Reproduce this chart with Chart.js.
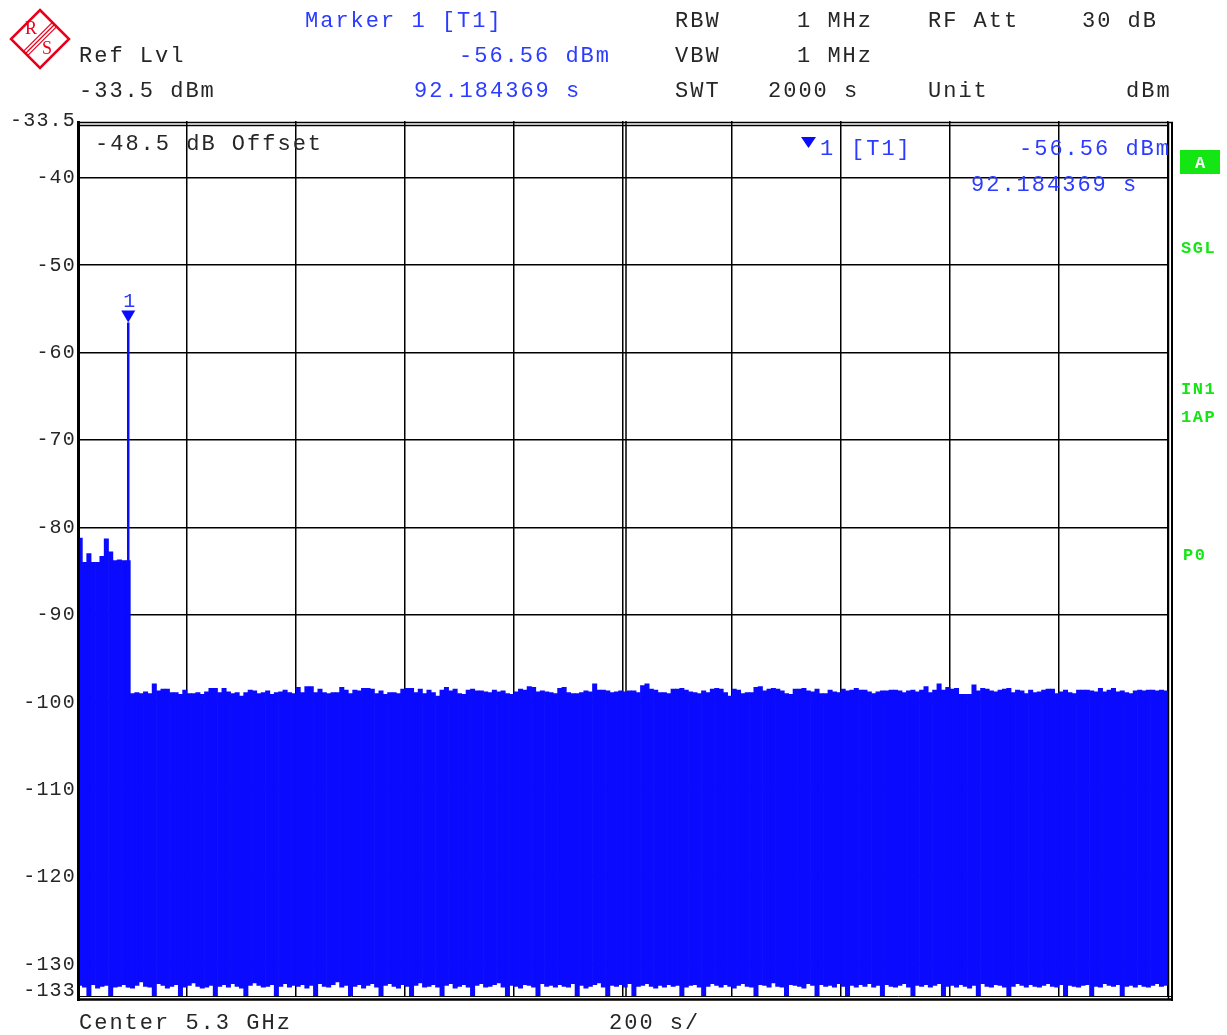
<!DOCTYPE html>
<html>
<head>
<meta charset="utf-8">
<script src="https://cdn.jsdelivr.net/npm/chart.js@4/dist/chart.umd.min.js"></script>
<style>
html,body{margin:0;padding:0;background:#fff;}
canvas{display:block;}
</style>
</head>
<body>
<canvas id="c" width="1227" height="1035"></canvas>
<script>
// ---- data ----
const sweepTime = 2000;          // s (200 s/div)
const nPoints = 250;
const traceMax = [
 -81.2,-84.0,-83.0,-84.0,-84.0,-83.3,-81.3,-82.8,-83.8,-83.7,-83.8,-83.8,
 -99.0,-98.9,-99.0,-98.8,-99.0,-97.9,-98.7,-98.5,-98.5,-98.9,
 -98.9,-99.1,-98.6,-99.0,-99.0,-98.9,-99.1,-98.8,-98.4,-98.4,
 -98.9,-98.4,-98.8,-99.0,-98.9,-99.3,-98.9,-98.6,-98.7,-99.0,
 -98.9,-98.7,-99.1,-98.9,-98.8,-98.6,-98.9,-99.0,-98.3,-98.9,
 -98.2,-98.2,-98.9,-98.5,-98.9,-99.0,-98.9,-98.9,-98.3,-98.6,
 -99.0,-98.6,-98.7,-98.4,-98.4,-98.5,-99.0,-98.7,-99.1,-98.9,
 -98.9,-99.0,-98.5,-98.4,-98.4,-98.9,-98.5,-99.0,-98.6,-98.9,
 -99.3,-98.6,
 -98.3,-98.7,-98.5,-99.0,-99.1,-98.6,-98.5,-98.7,-98.7,-98.8,
 -98.9,-98.6,-98.8,-98.7,-99.0,-99.1,-98.8,-98.5,-98.6,-98.2,
 -98.3,-98.8,-98.7,-98.8,-98.9,-99.0,-98.4,-98.3,-98.9,-99.0,
 -99.0,-98.9,-98.7,-98.8,-97.9,-98.6,-98.6,-98.7,-98.9,-98.8,
 -98.7,-98.8,-98.7,-98.7,-98.9,-98.1,-97.9,-98.5,-98.6,-98.9,
 -98.9,-99.0,-98.5,-98.5,-98.4,-98.6,-98.8,-98.9,-99.0,-98.7,
 -98.9,-98.5,-98.4,-98.5,-98.9,-99.3,-98.5,-98.6,-99.0,-98.9,
 -98.9,-98.3,-98.2,-98.7,-98.5,-98.4,-98.5,-98.7,-99.0,-99.1,
 -98.5,-98.5,-98.4,
 -98.7,-98.8,-98.5,-99.0,-99.0,-98.6,-98.8,-98.9,-98.5,-98.7,
 -98.6,-98.4,-98.6,-98.6,-98.8,-99.0,-98.8,-98.7,-98.7,-98.6,
 -98.6,-98.7,-98.9,-98.7,-98.6,-98.8,-98.6,-98.2,-98.9,-98.6,
 -97.9,-98.6,-98.3,-98.5,-98.4,-99.1,-99.1,-99.1,-98.0,-98.7,
 -98.4,-98.5,-98.7,-98.8,-98.6,-98.5,-98.4,-98.9,-98.6,-98.7,
 -99.0,-98.6,-98.9,-98.8,-98.6,-98.5,-98.5,-99.0,-98.8,-98.6,
 -98.9,-99.0,-98.6,-98.6,-98.6,-98.7,-98.8,-98.4,-98.8,-98.6,
 -98.4,-98.8,-98.7,-98.9,-99.0,-98.7,-98.6,-98.7,-98.6,-98.6,
 -98.7,-98.6,-98.7
];
const traceMin = [
 -132.4,-132.6,-133.6,-132.3,-132.7,-132.5,-132.4,-133.6,-132.6,-132.5,
 -132.3,-132.6,-132.7,-132.4,-132.0,-132.5,-132.6,-133.6,-132.2,-132.4,
 -132.7,-132.5,-132.3,-133.6,-132.6,-132.4,-132.1,-132.5,-132.7,-132.6,
 -132.4,-133.6,-132.5,-132.3,-132.6,-132.2,-132.5,-132.7,-133.6,-132.4,
 -132.1,-132.4,-132.6,-132.5,-132.3,-133.6,-132.5,-132.2,-132.6,-132.4,
 -132.5,-132.3,-132.7,-132.4,-133.6,-132.2,-132.5,-132.6,-132.3,-132.0,
 -132.6,-132.4,-133.6,-132.5,-132.3,-132.7,-132.4,-132.2,-132.6,-133.6,
 -132.4,-132.2,-132.5,-132.7,-132.3,-132.5,-133.6,-132.4,-132.1,-132.6,
 -132.5,-132.3,-132.6,-133.6,-132.4,-132.2,-132.7,-132.5,-132.3,-132.6,
 -133.6,-132.4,-132.2,-132.6,-132.5,-132.3,-132.1,-132.6,-133.6,-132.4,
 -132.5,-132.7,-132.3,-132.4,-132.6,-133.6,-132.2,-132.5,-132.4,-132.6,
 -132.3,-132.5,-132.6,-132.2,-133.6,-132.4,-132.7,-132.5,-132.3,-132.1,
 -132.6,-133.6,-132.4,-132.5,-132.3,-132.6,-132.2,-133.6,-132.5,-132.4,
 -132.2,-132.5,-132.7,-132.4,-132.6,-132.3,-132.5,-132.4,-133.6,-132.6,
 -132.4,-132.3,-132.6,-133.6,-132.5,-132.2,-132.4,-132.6,-132.3,-132.5,
 -132.7,-132.4,-132.2,-132.5,-132.6,-133.6,-132.3,-132.4,-132.6,-132.1,
 -132.5,-132.6,-133.6,-132.3,-132.4,-132.5,-132.7,-132.2,-132.4,-133.6,
 -132.3,-132.5,-132.4,-132.6,-132.2,-132.5,-133.6,-132.4,-132.6,-132.3,
 -132.5,-132.2,-132.6,-132.4,-133.6,-132.3,-132.5,-132.6,-132.4,-132.2,
 -132.6,-133.6,-132.4,-132.5,-132.3,-132.6,-132.4,-132.2,-133.6,-132.5,
 -132.4,-132.6,-132.3,-132.5,-132.7,-132.4,-133.6,-132.2,-132.5,-132.6,
 -132.3,-132.4,-132.6,-133.6,-132.5,-132.2,-132.4,-132.6,-132.3,-132.5,
 -132.6,-132.4,-132.2,-132.5,-132.6,-132.3,-133.6,-132.4,-132.5,-132.6,
 -132.4,-132.3,-133.6,-132.5,-132.6,-132.2,-132.4,-132.5,-132.3,-133.6,
 -132.5,-132.4,-132.6,-132.3,-132.5,-132.6,-132.4,-132.2,-132.5,-132.4
];
const markerTime = 92.184369;    // s
const markerLevel = -56.56;      // dBm
const refLevel = -33.5;
const yMin = -133.6;
const yTickValues = [-133,-130,-120,-110,-100,-90,-80,-70,-60,-50,-40,-33.5];
const xGridStep = 200;

// ---- build chart data from the arrays ----
const binWidth = sweepTime / nPoints;
const barData = traceMax.map((hi, i) => ({ x: (i + 0.5) * binWidth, y: [traceMin[i], hi] }));
const markerBin = Math.floor(markerTime / binWidth);
const peakLine = [{ x: markerTime, y: traceMin[markerBin] }, { x: markerTime, y: markerLevel }];

const BLUE = '#0a0aff';
const TXTBLUE = '#2b3bff';
const GREEN = '#14e614';
const INK = '#262626';
const MONO = '"Liberation Mono", "Courier New", monospace';

function txt(ctx, s, x, y, color, font, align, spacing, baseline) {
  ctx.save();
  ctx.font = font;
  ctx.fillStyle = color;
  ctx.textAlign = align || 'left';
  ctx.textBaseline = baseline || 'alphabetic';
  if ('letterSpacing' in ctx) ctx.letterSpacing = spacing || '2px';
  ctx.fillText(s, x, y);
  ctx.restore();
}

const rsPlugin = {
  id: 'rs',
  beforeDraw(chart) {
    const ctx = chart.ctx;
    ctx.save();
    ctx.fillStyle = '#fff';
    ctx.fillRect(0, 0, chart.width, chart.height);
    ctx.restore();
  },
  beforeDatasetsDraw(chart) {
    const ctx = chart.ctx, a = chart.chartArea, xs = chart.scales.x;
    const cx = Math.round(xs.getPixelForValue(sweepTime / 2)) + 3;
    ctx.save();
    ctx.strokeStyle = '#000';
    ctx.lineWidth = 1.5;
    ctx.beginPath(); ctx.moveTo(cx, a.top); ctx.lineTo(cx, a.bottom); ctx.stroke();
    ctx.restore();
  },
  afterDatasetsDraw(chart) {
    const ctx = chart.ctx, xs = chart.scales.x, ys = chart.scales.y;
    const xp = xs.getPixelForValue(markerTime), yp = ys.getPixelForValue(markerLevel);
    ctx.save();
    ctx.fillStyle = BLUE;
    ctx.beginPath();
    ctx.moveTo(xp - 7, yp - 12); ctx.lineTo(xp + 7, yp - 12); ctx.lineTo(xp, yp); ctx.closePath();
    ctx.fill();
    ctx.restore();
    txt(ctx, '1', xp + 1, yp - 16, TXTBLUE, '20px ' + MONO, 'center', '0px');
  },
  afterDraw(chart) {
    const ctx = chart.ctx, a = chart.chartArea, ys = chart.scales.y;
    const F = '22px ' + MONO;
    // y tick labels
    yTickValues.forEach(v => {
      txt(ctx, String(v), 76, ys.getPixelForValue(v), INK, '20px ' + MONO, 'right', '1.2px', 'middle');
    });
    // frame
    ctx.save();
    ctx.strokeStyle = '#000';
    ctx.lineWidth = 3;
    ctx.beginPath(); ctx.moveTo(a.left + 0.5, a.top); ctx.lineTo(a.left + 0.5, a.bottom + 5); ctx.stroke();
    ctx.lineWidth = 1.5;
    ctx.beginPath(); ctx.moveTo(a.left - 1, a.top + 1.5); ctx.lineTo(a.right + 5, a.top + 1.5); ctx.stroke();
    ctx.beginPath(); ctx.moveTo(a.left - 1, a.top + 4.5); ctx.lineTo(a.right + 1, a.top + 4.5); ctx.stroke();
    ctx.beginPath(); ctx.moveTo(a.right + 0.5, a.top + 1); ctx.lineTo(a.right + 0.5, a.bottom + 4); ctx.stroke();
    ctx.lineWidth = 2;
    ctx.beginPath(); ctx.moveTo(a.right + 4, a.top + 1); ctx.lineTo(a.right + 4, a.bottom + 5); ctx.stroke();
    ctx.lineWidth = 1;
    ctx.beginPath(); ctx.moveTo(a.left, a.bottom + 0.5); ctx.lineTo(a.right + 4, a.bottom + 0.5); ctx.stroke();
    ctx.lineWidth = 2.5;
    ctx.beginPath(); ctx.moveTo(a.left - 1, a.bottom + 3.5); ctx.lineTo(a.right + 5, a.bottom + 3.5); ctx.stroke();
    ctx.restore();

    // logo
    ctx.save();
    ctx.translate(40, 39);
    ctx.strokeStyle = '#e8001c';
    ctx.lineWidth = 2.5;
    ctx.beginPath();
    ctx.moveTo(0, -29); ctx.lineTo(29, 0); ctx.lineTo(0, 29); ctx.lineTo(-29, 0); ctx.closePath();
    ctx.stroke();
    ctx.lineWidth = 1.3;
    [-3, 0, 3].forEach(o => {
      const d = o / Math.SQRT2;
      ctx.beginPath(); ctx.moveTo(14.5 + d, -14.5 + d); ctx.lineTo(-14.5 + d, 14.5 + d); ctx.stroke();
    });
    ctx.fillStyle = '#e8001c';
    ctx.font = '18px "Liberation Serif", serif';
    ctx.textAlign = 'center'; ctx.textBaseline = 'middle';
    ctx.fillText('R', -9, -10);
    ctx.fillText('S', 7, 10);
    ctx.restore();

    // header
    txt(ctx, 'Marker 1 [T1]', 305, 27, TXTBLUE, F);
    txt(ctx, 'RBW', 675, 27, INK, F);
    txt(ctx, '1 MHz', 797, 27, INK, F);
    txt(ctx, 'RF Att', 928, 27, INK, F);
    txt(ctx, '30 dB', 1082, 27, INK, F);
    txt(ctx, 'Ref Lvl', 79, 62, INK, F);
    txt(ctx, markerLevel.toFixed(2) + ' dBm', 459, 62, TXTBLUE, F);
    txt(ctx, 'VBW', 675, 62, INK, F);
    txt(ctx, '1 MHz', 797, 62, INK, F);
    txt(ctx, refLevel.toFixed(1) + ' dBm', 79, 97, INK, F);
    txt(ctx, markerTime.toFixed(6) + ' s', 414, 97, TXTBLUE, F);
    txt(ctx, 'SWT', 675, 97, INK, F);
    txt(ctx, sweepTime + ' s', 768, 97, INK, F);
    txt(ctx, 'Unit', 928, 97, INK, F);
    txt(ctx, 'dBm', 1126, 97, INK, F);

    // in-chart texts
    txt(ctx, '-48.5 dB Offset', 95, 150, INK, F);
    ctx.save();
    ctx.fillStyle = BLUE;
    ctx.beginPath(); ctx.moveTo(801, 137); ctx.lineTo(816, 137); ctx.lineTo(808.5, 148); ctx.closePath(); ctx.fill();
    ctx.restore();
    txt(ctx, '1', 820, 155, TXTBLUE, F);
    txt(ctx, '[T1]', 851, 155, TXTBLUE, F);
    txt(ctx, markerLevel.toFixed(2) + ' dBm', 1019, 155, TXTBLUE, F);
    txt(ctx, markerTime.toFixed(6) + ' s', 971, 191, TXTBLUE, F);

    // right side status labels
    ctx.save();
    ctx.fillStyle = GREEN;
    ctx.fillRect(1180, 150, 40, 24);
    ctx.restore();
    const GB = 'bold 17px ' + MONO;
    txt(ctx, 'A', 1200, 168, '#fff', GB, 'center', '0px');
    txt(ctx, 'SGL', 1181, 253, GREEN, GB, 'left', '1.5px');
    txt(ctx, 'IN1', 1181, 394, GREEN, GB, 'left', '1.5px');
    txt(ctx, '1AP', 1181, 422, GREEN, GB, 'left', '1.5px');
    txt(ctx, 'P0', 1183, 560, GREEN, GB, 'left', '1.5px');

    // bottom
    txt(ctx, 'Center 5.3 GHz', 79, 1029, INK, F);
    txt(ctx, (sweepTime / 10) + ' s/', 609, 1029, INK, F);
  }
};

new Chart(document.getElementById('c'), {
  type: 'bar',
  data: {
    datasets: [
      {
        type: 'line',
        data: peakLine,
        borderColor: BLUE,
        borderWidth: 2.5,
        pointRadius: 0,
        order: 1
      },
      {
        type: 'bar',
        data: barData,
        backgroundColor: BLUE,
        borderWidth: 0,
        barPercentage: 1,
        categoryPercentage: 1,
        order: 2
      }
    ]
  },
  options: {
    responsive: false,
    animation: false,
    devicePixelRatio: 1,
    layout: { padding: { left: 0, top: 121, right: 59, bottom: 39 } },
    plugins: { legend: { display: false }, tooltip: { enabled: false } },
    scales: {
      x: {
        type: 'linear',
        min: 0,
        max: sweepTime,
        offset: false,
        grid: { offset: false, color: '#000', lineWidth: 1.5, drawTicks: false },
        border: { display: false },
        ticks: { display: false, stepSize: xGridStep },
        afterFit(s) { s.height = 0; }
      },
      y: {
        type: 'linear',
        min: yMin,
        max: refLevel,
        grid: {
          color: c => (c.tick && (c.tick.value === -133 || c.tick.value === refLevel)) ? 'rgba(0,0,0,0)' : '#000',
          lineWidth: 1.5,
          drawTicks: false
        },
        border: { display: false },
        ticks: { display: false, autoSkip: false },
        afterBuildTicks(s) { s.ticks = yTickValues.map(v => ({ value: v })); },
        afterFit(s) { s.width = 78; }
      }
    }
  },
  plugins: [rsPlugin]
});
</script>
</body>
</html>
